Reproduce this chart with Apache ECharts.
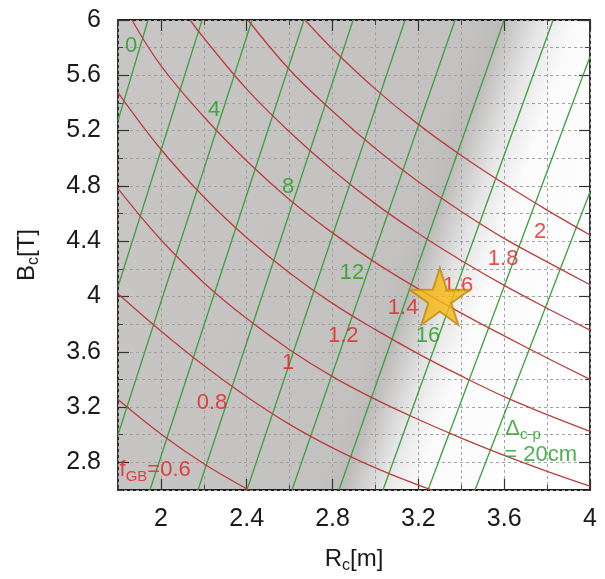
<!DOCTYPE html>
<html><head><meta charset="utf-8">
<script src="https://cdn.jsdelivr.net/npm/echarts@6/dist/echarts.min.js"></script>
<style>html,body{margin:0;padding:0;background:#fff}#c{width:605px;height:579px}</style>
</head><body><div id="c"></div>
<script>
// ---- tick labels ----
const xTicks = [2, 2.4, 2.8, 3.2, 3.6, 4];
const yTicks = [2.8, 3.2, 3.6, 4, 4.4, 4.8, 5.2, 5.6, 6];

// ---- f_GB contours (red): [Rc, Bc] ----
const fgbLevels = ['0.6', '0.8', '1', '1.2', '1.4', '1.6', '1.8', '2'];
const fgb06 = [[1.8,3.254],[2.0,3.005],[2.2,2.79],[2.41,2.6]];
const fgb08 = [[1.8,4.02],[2.0,3.75],[2.2,3.50],[2.4,3.275],[2.6,3.075],[2.8,2.905],[3.0,2.76],[3.2,2.635],[3.264,2.6]];
const fgb10 = [[1.8,4.78],[2.0,4.41],[2.2,4.10],[2.4,3.84],[2.6,3.615],[2.8,3.42],[3.0,3.255],[3.2,3.11],[3.4,2.975],[3.6,2.85],[3.8,2.735],[4.0,2.628]];
const fgb12 = [[1.8,5.475],[2.0,5.065],[2.2,4.72],[2.4,4.425],[2.6,4.17],[2.8,3.95],[3.0,3.76],[3.2,3.585],[3.4,3.425],[3.6,3.275],[3.8,3.145],[4.0,3.024]];
const fgb14 = [[1.865,6.0],[2.0,5.67],[2.2,5.30],[2.4,4.98],[2.6,4.70],[2.8,4.46],[3.0,4.245],[3.2,4.055],[3.4,3.88],[3.6,3.715],[3.8,3.555],[4.0,3.40]];
const fgb16 = [[2.136,6.0],[2.2,5.87],[2.4,5.50],[2.6,5.19],[2.8,4.915],[3.0,4.67],[3.2,4.455],[3.4,4.26],[3.6,4.08],[3.8,3.915],[4.0,3.757]];
const fgb18 = [[2.406,6.0],[2.6,5.64],[2.8,5.34],[3.0,5.07],[3.2,4.83],[3.4,4.615],[3.6,4.42],[3.8,4.25],[4.0,4.085]];
const fgb20 = [[2.672,6.0],[2.8,5.79],[3.0,5.50],[3.2,5.245],[3.4,5.02],[3.6,4.815],[3.8,4.625],[4.0,4.445]];
const fgbCurves = [fgb06, fgb08, fgb10, fgb12, fgb14, fgb16, fgb18, fgb20];

// ---- Delta_c-p contours (green, cm) ----
const deltaLevels = [0, 2, 4, 6, 8, 10, 12, 14, 16, 18, 20];
const d00 = [[1.94,6],[1.8,5.27]];
const d02 = [[2.192,6],[1.8,4.07]];
const d04 = [[2.425,6],[1.8,3.0]];
const d06 = [[2.667,6],[1.949,2.6]];
const d08 = [[2.896,6],[2.173,2.6]];
const d10 = [[3.138,6],[2.401,2.6]];
const d12 = [[3.371,6],[2.611,2.6]];
const d14 = [[3.60,6],[2.830,2.6]];
const d16 = [[3.828,6],[3.035,2.6]];
const d18 = [[4.0,5.734],[3.245,2.6]];
const d20 = [[4.0,4.756],[3.464,2.6]];
const deltaLines = [d00, d02, d04, d06, d08, d10, d12, d14, d16, d18, d20];

// ---- contour label anchors [text, Rc, Bc] ----
const redLabels = [['0.8',2.238,3.232],['1',2.593,3.52],['1.2',2.85,3.714],['1.4',3.129,3.915],['1.6',3.385,4.073],['1.8',3.595,4.275],['2',3.767,4.469]];
const greenLabels = [['0',1.861,5.813],['4',2.248,5.346],['8',2.593,4.792],['12',2.891,4.167],['16',3.245,3.714]];
const fgbTitle = [1.805, 2.743];
const deltaTitle = [[3.603, 3.04], [3.598, 2.851]];
const designPoint = [3.3, 4.0];

const FONT = 'Liberation Sans, Arial, Helvetica, sans-serif';
const RED_LINE = '#bc3d3d', GREEN_LINE = '#3d9f3d';
const RED_TXT = '#e42020', GREEN_TXT = '#1f9e1f';
const INK = '#1a1a1a';

const fmt = v => String(+(+v).toFixed(1));

function xAx(pos, major) {
  return {
    type: 'value', min: 1.8, max: 4, interval: 0.2, position: pos,
    axisLine: {show: false},
    axisTick: major ? {show: true, inside: true, length: 11, customValues: xTicks, lineStyle: {color: '#333', width: 1.2}}
                    : {show: true, inside: true, length: 5, lineStyle: {color: '#444', width: 1}},
    axisLabel: (major || pos === 'top') ? {show: false} : {show: true, customValues: xTicks, fontSize: 25, fontFamily: FONT, color: INK, margin: 17, formatter: fmt},
    splitLine: {show: !major && pos === 'bottom', lineStyle: {color: '#a3a3a3', type: [3, 3], width: 1}}
  };
}
function yAx(pos, major) {
  return {
    type: 'value', min: 2.6, max: 6, interval: 0.2, position: pos,
    axisLine: {show: false},
    axisTick: major ? {show: true, inside: true, length: 11, customValues: yTicks, lineStyle: {color: '#333', width: 1.2}}
                    : {show: true, inside: true, length: 5, lineStyle: {color: '#444', width: 1}},
    axisLabel: (major || pos === 'right') ? {show: false} : {show: true, customValues: yTicks, fontSize: 25, fontFamily: FONT, color: INK, margin: 17, formatter: fmt},
    splitLine: {show: !major && pos === 'left', lineStyle: {color: '#a3a3a3', type: [3, 3], width: 1}}
  };
}

const xAxes = [xAx('bottom', false), xAx('bottom', true), xAx('top', false), xAx('top', true)];
const yAxes = [yAx('left', false), yAx('left', true), yAx('right', false), yAx('right', true)];
const nameStyle = {fontSize: 24, fontFamily: FONT, color: INK,
  rich: {a: {fontSize: 24, fontFamily: FONT, color: INK, lineHeight: 30},
         s: {fontSize: 16, fontFamily: FONT, color: INK, lineHeight: 10, verticalAlign: 'bottom'}}};
xAxes[0].name = '{a|R}{s|c}{a|[m]}';
xAxes[0].nameLocation = 'middle';
xAxes[0].nameGap = 54;
xAxes[0].nameTextStyle = nameStyle;
yAxes[0].name = '{a|B}{s|c}{a|[T]}';
yAxes[0].nameLocation = 'middle';
yAxes[0].nameGap = 76;
yAxes[0].nameTextStyle = nameStyle;

const series = [];
deltaLines.forEach((d, i) => series.push({
  type: 'line', name: 'Δ ' + deltaLevels[i], data: d, symbol: 'none', silent: true,
  lineStyle: {color: GREEN_LINE, width: 1.3}, z: 3
}));
fgbCurves.forEach((d, i) => series.push({
  type: 'line', name: 'fGB ' + fgbLevels[i], data: d, symbol: 'none', smooth: 0.4, silent: true,
  lineStyle: {color: RED_LINE, width: 1.3}, z: 4
}));

function textSeries(items, color) {
  return {
    type: 'scatter', symbolSize: 1, silent: true, z: 6,
    itemStyle: {color: 'rgba(0,0,0,0)'},
    data: items.map(t => ({name: t[0], value: [t[1], t[2]]})),
    label: {show: true, position: 'inside', formatter: p => p.name, fontSize: 22, fontFamily: FONT, color: color}
  };
}
series.push(textSeries(redLabels, RED_TXT));
series.push(textSeries(greenLabels, GREEN_TXT));
series.push({
  type: 'scatter', symbolSize: 1, silent: true, z: 6, itemStyle: {color: 'rgba(0,0,0,0)'},
  data: [{name: 'fgb', value: fgbTitle}],
  label: {show: true, position: 'right', distance: 0, formatter: '{a|f}{s|GB}{a|=0.6}',
    rich: {a: {fontSize: 22, fontFamily: FONT, color: RED_TXT, lineHeight: 28},
           s: {fontSize: 15, fontFamily: FONT, color: RED_TXT, lineHeight: 9, verticalAlign: 'bottom'}}}
});
series.push({
  type: 'scatter', symbolSize: 1, silent: true, z: 6, itemStyle: {color: 'rgba(0,0,0,0)'},
  data: [{name: 'd1', value: deltaTitle[0]}, {name: 'd2', value: deltaTitle[1]}],
  label: {show: true, position: 'right', distance: 0,
    formatter: p => p.name === 'd1' ? '{a|Δ}{s|c-p}' : '{a|= 20cm}',
    rich: {a: {fontSize: 22, fontFamily: FONT, color: GREEN_TXT, lineHeight: 26},
           s: {fontSize: 15, fontFamily: FONT, color: GREEN_TXT, lineHeight: 9, verticalAlign: 'bottom'}}}
});
series.push({
  type: 'scatter', silent: true, z: 8,
  symbol: 'path://M50,0 L61.2,34.5 L97.6,34.5 L68.2,55.9 L79.4,90.5 L50,69.1 L20.6,90.5 L31.8,55.9 L2.4,34.5 L38.8,34.5 Z',
  symbolSize: [60, 57],
  itemStyle: {color: '#f7b90f', borderColor: '#c08a10', borderWidth: 2},
  data: [designPoint]
});

const chart = echarts.init(document.getElementById('c'), null, {renderer: 'canvas'});
chart.setOption({
  animation: false,
  grid: {
    left: 118, right: 15, top: 20, bottom: 86, show: true,
    borderColor: '#1e1e1e', borderWidth: 1.8,
    backgroundColor: {type: 'linear', x: 0, y: 0.33, x2: 1, y2: 0.67, colorStops: [
      {offset: 0, color: '#c8c6c5'},
      {offset: 0.58, color: '#c4c2c1'},
      {offset: 0.63, color: '#bebcbb'},
      {offset: 0.70, color: '#e4e4e4'},
      {offset: 0.77, color: '#fbfbfb'},
      {offset: 1, color: '#ffffff'}
    ]}
  },
  xAxis: xAxes,
  yAxis: yAxes,
  series: series
});
</script></body></html>
